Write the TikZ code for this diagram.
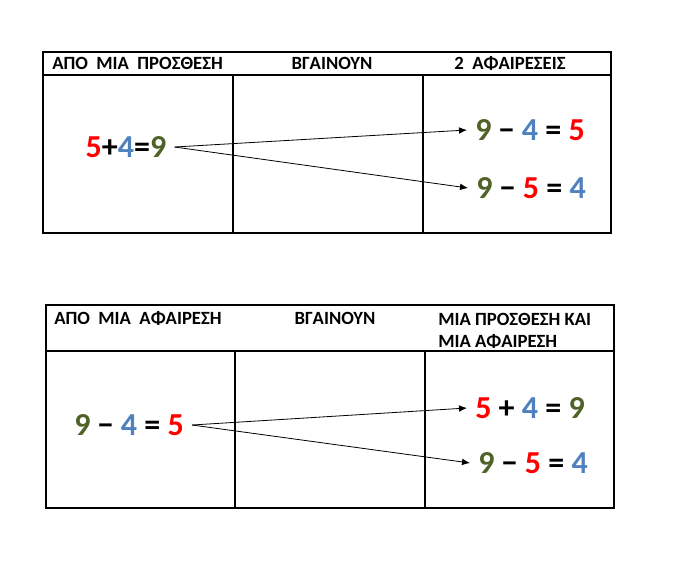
\documentclass[tikz,border=0pt]{standalone}
\usepackage{fontspec}
\setmainfont{Carlito}
\usepackage{tikz}
\usetikzlibrary{arrows.meta}
\definecolor{numred}{HTML}{FF0000}
\definecolor{numblue}{HTML}{4F81BD}
\definecolor{numgreen}{HTML}{4F6228}
\newcommand{\rdn}[1]{\textcolor{numred}{#1}}
\newcommand{\bln}[1]{\textcolor{numblue}{#1}}
\newcommand{\grn}[1]{\textcolor{numgreen}{#1}}

\begin{document}
\begin{tikzpicture}[x=0.75pt, y=-0.75pt,
    head/.style={font=\fontsize{14}{16.5}\selectfont\bfseries, inner sep=0pt},
    eq/.style={font=\fontsize{24}{28}\selectfont\bfseries, inner xsep=6pt, inner ysep=0pt},
    frame/.style={line width=0.9pt},
    link/.style={-{Latex[length=6pt, width=5pt]}, line width=0.6pt}]
    \useasboundingbox (0,0) rectangle (686,572);

    % the two tables
    \foreach \xa/\xb/\xc/\xd/\ya/\yb/\yc in {43/233/423/611/52/75/233, 46/235/425/614/305/351/508}{
      \draw[frame] (\xa, \ya) rectangle (\xd, \yc);
      \draw[frame] (\xa, \yb) -- (\xd, \yb);
      \draw[frame] (\xb, \yb) -- (\xb, \yc);
      \draw[frame] (\xc, \yb) -- (\xc, \yc);
    }

    % top table
    \node[head, anchor=west] (addfrom) at (52, 63) {ΑΠΟ\ \ ΜΙΑ\ \ ΠΡΟΣΘΕΣΗ};
    \node[head] (addgive) at (332, 63) {ΒΓΑΙΝΟΥΝ};
    \node[head] (addget) at (510, 63) {2\ \ ΑΦΑΙΡΕΣΕΙΣ};

    \node[eq] (sum) at (126, 147) {\rdn{5}+\bln{4}=\grn{9}};
    \node[eq] (subA) at (530, 130) {\grn{9} − \bln{4} = \rdn{5}};
    \node[eq] (subB) at (531, 188) {\grn{9} − \rdn{5} = \bln{4}};

    \draw[link] (sum.east) -- (subA.west);
    \draw[link] (sum.east) -- (subB.west);

    % bottom table
    \node[head, anchor=west] (subfrom) at (54, 318) {ΑΠΟ\ \ ΜΙΑ\ \ ΑΦΑΙΡΕΣΗ};
    \node[head] (subgive) at (335, 318) {ΒΓΑΙΝΟΥΝ};
    \node[head, anchor=north west, align=left] (subget) at (438, 313) {ΜΙΑ ΠΡΟΣΘΕΣΗ ΚΑΙ\\ΜΙΑ ΑΦΑΙΡΕΣΗ};

    \node[eq] (diff) at (129, 425) {\grn{9} − \bln{4} = \rdn{5}};
    \node[eq] (addC) at (530, 408) {\rdn{5} + \bln{4} = \grn{9}};
    \node[eq] (subC) at (533, 463) {\grn{9} − \rdn{5} = \bln{4}};

    \draw[link] (diff.east) -- (addC.west);
    \draw[link] (diff.east) -- (subC.west);
  \end{tikzpicture}
\end{document}
